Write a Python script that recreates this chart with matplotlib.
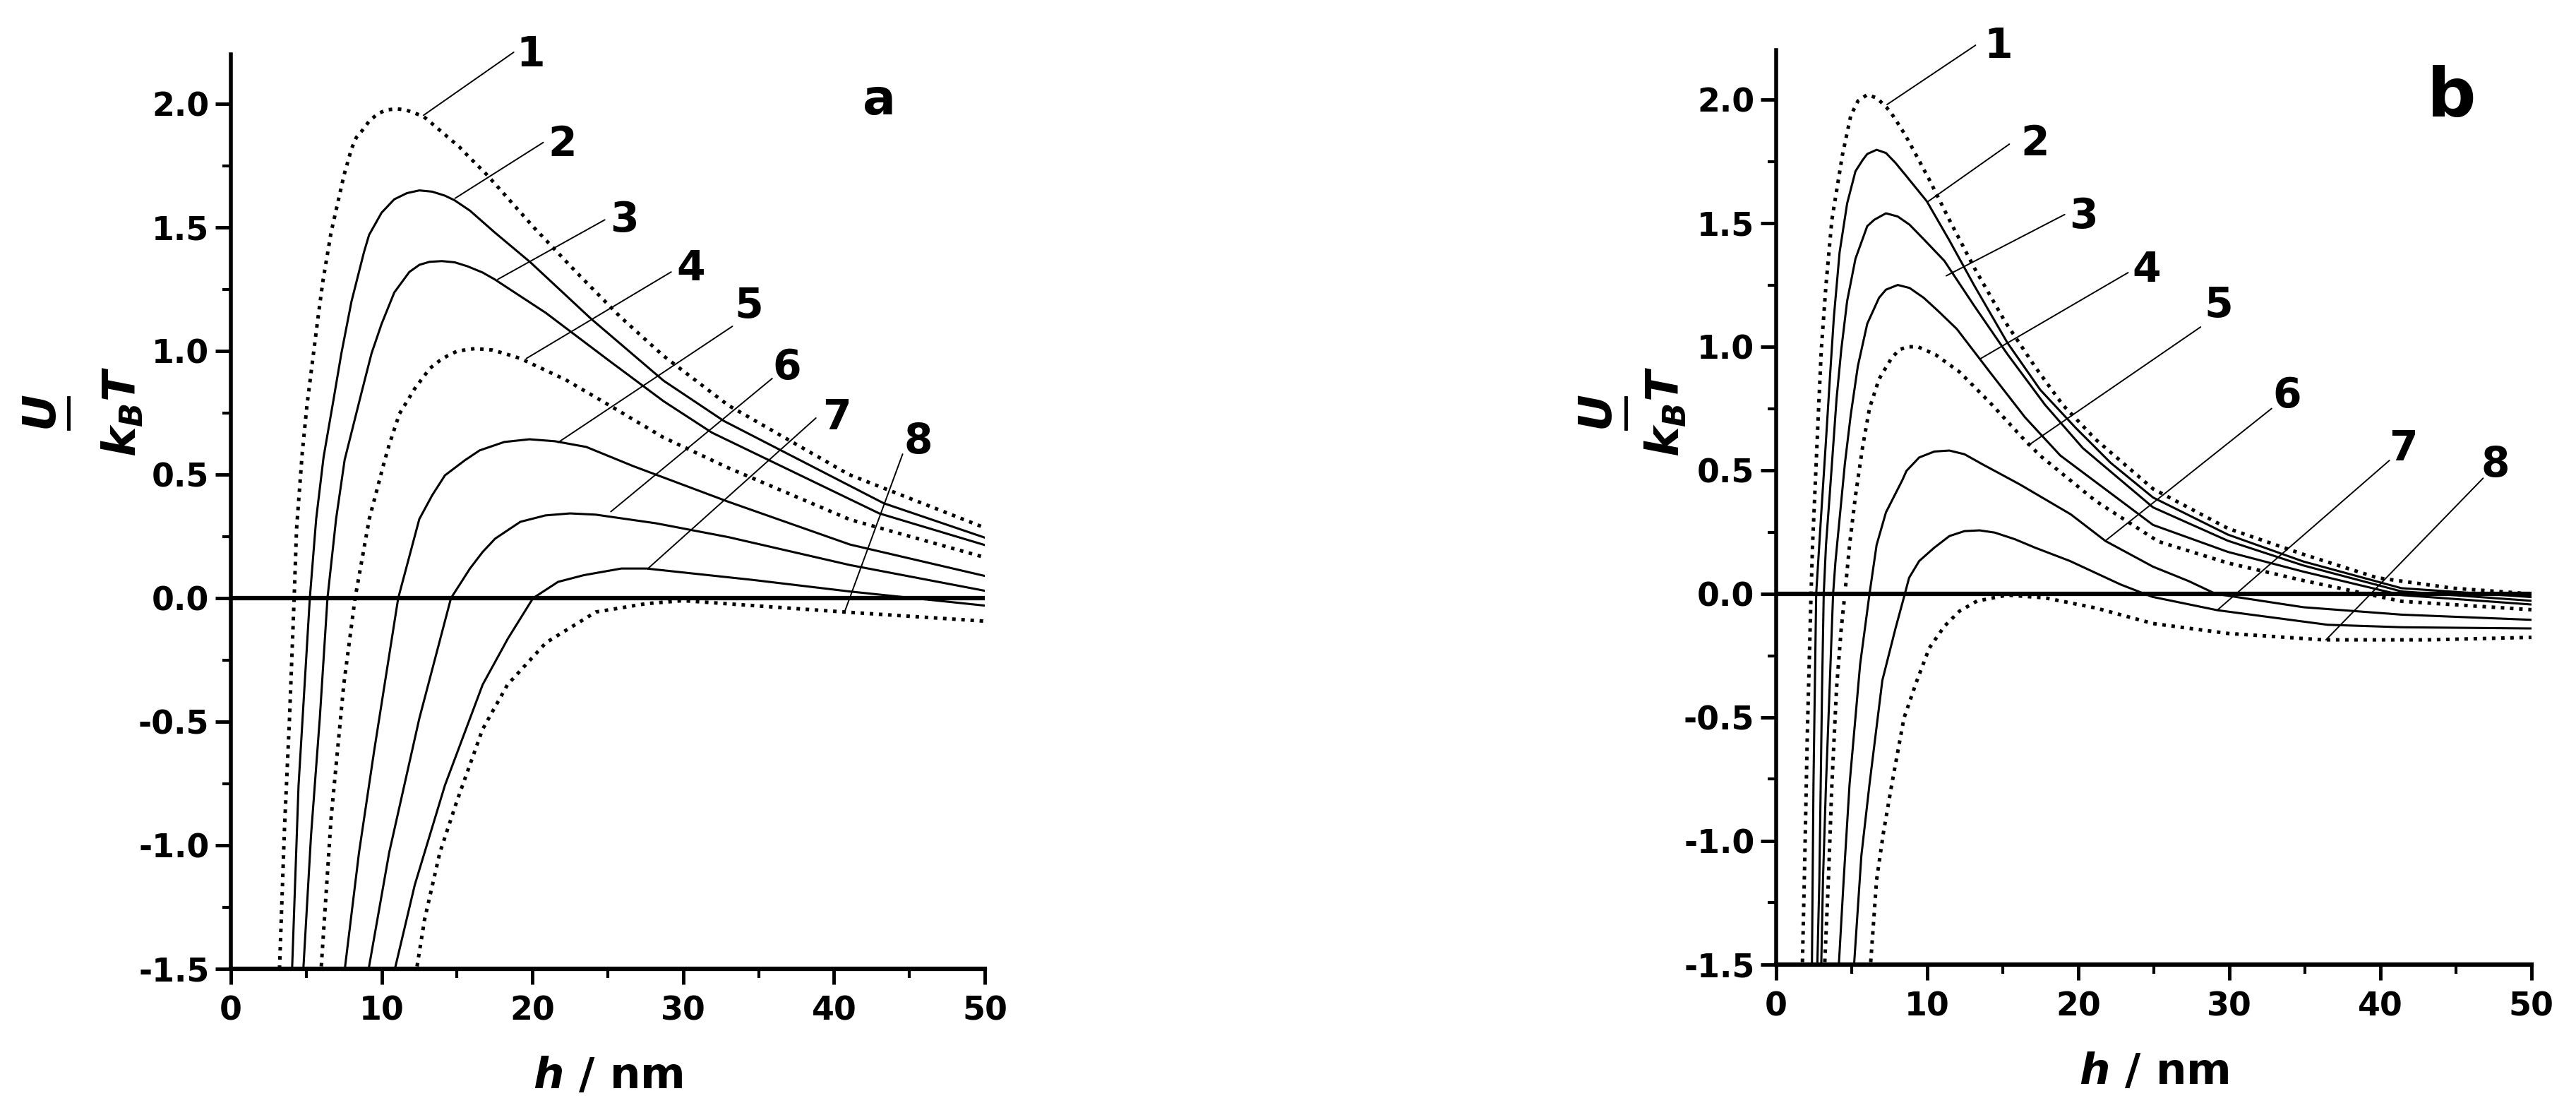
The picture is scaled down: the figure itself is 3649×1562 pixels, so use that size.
import matplotlib
matplotlib.use("Agg")
import matplotlib.pyplot as plt
from matplotlib.lines import Line2D
from matplotlib.ticker import MultipleLocator, FormatStrFormatter

plt.rcParams['font.family'] = ['DejaVu Sans']
plt.rcParams['font.weight'] = 'bold'
plt.rcParams['mathtext.fontset'] = 'custom'
plt.rcParams['mathtext.it'] = 'DejaVu Sans:italic:bold'
plt.rcParams['mathtext.rm'] = 'DejaVu Sans:bold'
plt.rcParams['mathtext.bf'] = 'DejaVu Sans:bold'

# ---- panel a : (h / nm, U / kBT) ----
a1 = [(3.23, -1.50), (3.56, -0.93), (3.89, -0.49), (4.2, 0.0), (4.36, 0.28), (4.74, 0.59),
      (5.05, 0.78), (5.4, 0.95), (5.75, 1.12), (6.1, 1.28), (6.65, 1.48), (7.5, 1.71),
      (8.0, 1.818), (8.33, 1.865), (8.75, 1.895), (9.17, 1.93), (9.76, 1.961), (10.34, 1.976),
      (11.0, 1.98), (11.59, 1.976), (12.18, 1.963), (12.76, 1.95), (13.35, 1.92), (14.52, 1.859),
      (15.17, 1.825), (15.77, 1.787), (16.94, 1.716), (17.4, 1.685), (20.1, 1.50), (22.9, 1.32),
      (25.8, 1.14), (28.7, 0.98), (33.0, 0.78), (41.0, 0.50), (50.0, 0.285)]
a2 = [(4.07, -1.49), (4.49, -0.76), (5.24, 0.0), (5.66, 0.32), (6.15, 0.57), (6.83, 0.81),
      (7.33, 0.99), (8.0, 1.2), (8.83, 1.40), (9.17, 1.47), (10.0, 1.56), (10.84, 1.614),
      (11.68, 1.639), (12.5, 1.65), (13.35, 1.645), (14.19, 1.629), (14.84, 1.61), (15.86, 1.568),
      (17.5, 1.48), (19.85, 1.36), (23.9, 1.13), (28.7, 0.88), (32.7, 0.717), (43.3, 0.384),
      (50.0, 0.245)]
a3 = [(4.82, -1.49), (5.32, -0.96), (5.9, -0.487), (6.41, 0.0), (6.98, 0.32), (7.55, 0.56),
      (8.66, 0.83), (9.33, 0.99), (10.0, 1.11), (10.84, 1.237), (11.84, 1.32), (12.51, 1.349),
      (13.18, 1.361), (14.0, 1.364), (14.85, 1.359), (15.69, 1.343), (16.69, 1.318), (17.5, 1.29),
      (20.9, 1.154), (25.0, 0.965), (28.7, 0.797), (31.9, 0.67), (43.0, 0.343), (50.0, 0.215)]
a4 = [(6.0, -1.49), (6.65, -0.89), (7.49, -0.35), (8.24, 0.0), (9.18, 0.32), (10.17, 0.55),
      (10.5, 0.62), (11.18, 0.746), (12.2, 0.848), (13.2, 0.93), (13.85, 0.961), (14.35, 0.98),
      (15.02, 1.0), (16.2, 1.01), (17.36, 1.004), (18.53, 0.983), (19.2, 0.97), (22.2, 0.884),
      (25.2, 0.777), (28.7, 0.65), (33.0, 0.527), (41.06, 0.318), (50.0, 0.165)]
a5 = [(7.58, -1.49), (8.5, -1.03), (9.5, -0.62), (11.1, 0.0), (12.5, 0.32), (13.35, 0.416),
      (14.2, 0.497), (15.52, 0.558), (16.5, 0.598), (18.13, 0.632), (19.8, 0.643), (21.5, 0.635),
      (23.57, 0.612), (26.7, 0.534), (33.0, 0.39), (41.06, 0.217), (50.0, 0.09)]
a6 = [(9.17, -1.49), (10.5, -1.03), (12.5, -0.487), (14.6, 0.0), (15.86, 0.12), (16.7, 0.187),
      (17.53, 0.241), (19.2, 0.309), (20.87, 0.335), (22.5, 0.343), (24.2, 0.338), (28.2, 0.303),
      (33.0, 0.247), (41.06, 0.134), (50.0, 0.03)]
a7 = [(10.92, -1.49), (12.2, -1.16), (14.2, -0.757), (16.7, -0.35), (18.37, -0.164), (20.04, 0.0),
      (21.7, 0.066), (23.4, 0.093), (25.9, 0.12), (27.56, 0.12), (34.6, 0.074), (41.06, 0.027),
      (50.0, -0.03)]
a8 = [(12.35, -1.49), (12.85, -1.30), (13.86, -1.03), (15.0, -0.82), (16.7, -0.53), (18.35, -0.35),
      (20.9, -0.18), (24.2, -0.056), (27.56, -0.022), (30.0, -0.01), (40.7, -0.056), (50.0, -0.093)]

# ---- panel b ----
b1 = [(1.74, -1.49), (1.90, -1.06), (2.06, -0.576), (2.31, 0.0), (2.41, 0.198), (2.60, 0.46),
      (2.79, 0.725), (2.99, 0.99), (3.30, 1.25), (3.69, 1.514), (4.39, 1.777), (4.94, 1.935),
      (5.41, 1.994), (6.03, 2.02), (6.65, 2.007), (7.29, 1.97), (7.71, 1.937), (8.04, 1.906),
      (8.46, 1.865), (8.79, 1.83), (10.14, 1.676), (11.47, 1.513), (13.13, 1.318), (15.14, 1.103),
      (17.14, 0.919), (18.97, 0.765), (21.15, 0.625), (24.95, 0.425), (29.9, 0.265), (34.9, 0.16),
      (39.8, 0.065), (44.8, 0.023), (50.0, 0.0)]
b2 = [(2.37, -1.49), (2.47, -0.77), (2.65, 0.0), (2.99, 0.33), (3.27, 0.593), (3.54, 0.857),
      (3.82, 1.119), (4.2, 1.382), (4.70, 1.58), (5.25, 1.71), (5.72, 1.755), (6.03, 1.78),
      (6.65, 1.797), (7.27, 1.784), (7.9, 1.744), (8.52, 1.698), (9.97, 1.589), (11.47, 1.43),
      (13.13, 1.246), (15.31, 1.016), (17.48, 0.826), (19.81, 0.673), (22.15, 0.53), (24.95, 0.39),
      (29.9, 0.24), (34.9, 0.131), (41.4, 0.023), (50.0, -0.013)]
b3 = [(2.73, -1.49), (2.86, -1.157), (2.95, -0.77), (3.04, -0.38), (3.15, 0.0), (3.30, 0.198),
      (3.54, 0.396), (3.77, 0.593), (4.0, 0.79), (4.31, 0.988), (4.70, 1.185), (5.25, 1.356),
      (6.03, 1.488), (6.5, 1.514), (7.27, 1.54), (8.05, 1.527), (8.83, 1.494), (9.77, 1.435),
      (11.13, 1.348), (13.13, 1.164), (15.31, 0.97), (17.8, 0.765), (20.3, 0.59), (24.95, 0.35),
      (29.9, 0.215), (34.9, 0.115), (41.4, 0.01), (50.0, -0.028)]
b4 = [(2.99, -1.49), (3.10, -1.157), (3.30, -0.77), (3.54, -0.38), (3.77, 0.0), (3.93, 0.133),
      (4.24, 0.33), (4.55, 0.527), (4.94, 0.725), (5.41, 0.922), (6.03, 1.093), (6.81, 1.198),
      (7.27, 1.231), (8.05, 1.25), (8.83, 1.238), (9.77, 1.198), (10.7, 1.146), (11.96, 1.072),
      (14.14, 0.898), (16.48, 0.714), (18.81, 0.56), (24.95, 0.279), (29.9, 0.17), (34.9, 0.09),
      (41.4, -0.005), (50.0, -0.043)]
b5 = [(3.22, -1.49), (3.46, -1.157), (3.69, -0.77), (4.0, -0.38), (4.31, -0.14), (4.55, 0.0),
      (4.86, 0.198), (5.25, 0.396), (5.72, 0.593), (6.18, 0.751), (6.81, 0.869), (7.58, 0.948),
      (8.13, 0.988), (8.75, 1.0), (9.38, 1.0), (10.55, 0.968), (12.14, 0.898), (14.14, 0.775),
      (16.3, 0.632), (17.48, 0.559), (21.15, 0.376), (25.3, 0.212), (29.9, 0.125), (34.9, 0.054),
      (41.4, -0.03), (50.0, -0.064)]
b6 = [(4.16, -1.49), (4.47, -1.157), (4.86, -0.77), (5.56, -0.285), (6.18, 0.0), (6.65, 0.198),
      (7.27, 0.33), (8.36, 0.461), (8.63, 0.498), (9.47, 0.552), (10.47, 0.576), (11.47, 0.58),
      (12.47, 0.565), (13.64, 0.525), (15.31, 0.47), (16.1, 0.444), (19.5, 0.322), (21.8, 0.214),
      (24.95, 0.11), (27.3, 0.052), (29.1, 0.0), (34.9, -0.054), (41.4, -0.084), (50.0, -0.105)]
b7 = [(5.17, -1.49), (5.64, -1.06), (6.18, -0.77), (7.03, -0.35), (7.9, -0.14), (8.52, 0.0),
      (8.8, 0.065), (9.47, 0.133), (10.47, 0.187), (11.47, 0.234), (12.47, 0.254), (13.47, 0.257),
      (14.47, 0.248), (15.81, 0.221), (17.14, 0.187), (19.45, 0.133), (22.8, 0.038), (24.9, -0.012),
      (29.2, -0.066), (36.5, -0.125), (41.4, -0.135), (50.0, -0.14)]
b8 = [(6.26, -1.49), (6.65, -1.157), (7.11, -0.963), (7.66, -0.769), (8.46, -0.503), (9.3, -0.354),
      (10.14, -0.219), (11.14, -0.131), (12.13, -0.07), (13.3, -0.029), (15.3, -0.005), (17.8, -0.016),
      (21.15, -0.057), (24.95, -0.12), (29.9, -0.16), (36.2, -0.186), (43.1, -0.186), (50.0, -0.176)]

curves_a = [a1, a2, a3, a4, a5, a6, a7, a8]
curves_b = [b1, b2, b3, b4, b5, b6, b7, b8]
styles_a = ['dot', 'solid', 'solid', 'dot', 'solid', 'solid', 'solid', 'dot']
styles_b = ['dot', 'solid', 'solid', 'solid', 'dot', 'solid', 'solid', 'dot']
curve_names = ['1', '2', '3', '4', '5', '6', '7', '8']

# label positions (baseline) and leader lines (from, to) in data units
labels_a = [(19.9, 2.153), (22.0, 1.79), (26.1, 1.484), (30.5, 1.287),
            (34.35, 1.134), (36.9, 0.887), (40.2, 0.683), (45.6, 0.587)]
leaders_a = [((18.76, 2.209), (12.78, 1.954)), ((20.72, 1.844), (14.87, 1.618)),
             ((24.8, 1.531), (17.7, 1.29)), ((29.2, 1.32), (19.6, 0.97)),
             ((33.26, 1.10), (21.7, 0.63)), ((35.9, 0.889), (25.2, 0.35)),
             ((38.8, 0.729), (27.7, 0.122)), ((44.55, 0.583), (40.7, -0.056))]
labels_b = [(14.7, 2.168), (17.15, 1.774), (20.35, 1.481), (24.5, 1.262),
            (29.3, 1.119), (33.8, 0.755), (41.5, 0.54), (47.6, 0.474)]
leaders_b = [((13.2, 2.22), (7.34, 1.98)), ((15.44, 1.82), (10.04, 1.587)),
             ((19.1, 1.535), (11.26, 1.287)), ((23.3, 1.30), (13.48, 0.95)),
             ((28.1, 1.08), (16.67, 0.60)), ((32.8, 0.75), (21.8, 0.215)),
             ((40.6, 0.54), (29.2, -0.066)), ((46.8, 0.468), (36.4, -0.186))]

fig = plt.figure(figsize=(36.49, 15.62), dpi=100)
ax_a = fig.add_axes([0.0896, 0.1216, 0.2927, 0.829])
ax_b = fig.add_axes([0.6895, 0.1255, 0.2932, 0.829])


def draw_panel(ax, curves, styles, labels, leaders, letter, letter_pos, letter_size):
    ax.axhline(0, color='black', lw=4.5, zorder=1)
    for pts, st in zip(curves, styles):
        h = [p[0] for p in pts]
        u = [p[1] for p in pts]
        if st == 'dot':
            ax.plot(h, u, color='black', lw=3.6, linestyle=(0, (1, 1.6)), zorder=2)
        else:
            ax.plot(h, u, color='black', lw=2.2, zorder=2, solid_joinstyle='round')
    for name, pos, (p0, p1) in zip(curve_names, labels, leaders):
        ax.text(pos[0], pos[1], name, fontsize=42, fontweight='bold',
                ha='center', va='baseline')
        ax.annotate('', xy=p1, xytext=p0,
                    arrowprops=dict(arrowstyle='-', lw=1.4, color='black',
                                    shrinkA=0, shrinkB=0))
    ax.text(letter_pos[0], letter_pos[1], letter, fontsize=letter_size,
            fontweight='bold', ha='center', va='baseline')

    ax.set_xlim(0, 50)
    ax.set_ylim(-1.5, 2.2)
    ax.spines['top'].set_visible(False)
    ax.spines['right'].set_visible(False)
    ax.spines['left'].set_linewidth(4.0)
    ax.spines['bottom'].set_linewidth(4.5)
    ax.xaxis.set_major_locator(MultipleLocator(10))
    ax.xaxis.set_minor_locator(MultipleLocator(5))
    ax.yaxis.set_major_locator(MultipleLocator(0.5))
    ax.yaxis.set_minor_locator(MultipleLocator(0.25))
    ax.yaxis.set_major_formatter(FormatStrFormatter('%.1f'))
    ax.tick_params(which='major', direction='out', length=16, width=3.5, labelsize=33)
    ax.tick_params(which='minor', direction='out', length=9, width=3)
    ax.tick_params(axis='y', which='major', pad=6)
    ax.tick_params(axis='x', which='major', pad=11)
    ax.set_xlabel(r'$h$ / nm', fontsize=44, fontweight='bold', va='top')
    ax.xaxis.set_label_coords(0.5, -0.095)


draw_panel(ax_a, curves_a, styles_a, labels_a, leaders_a, 'a', (43.0, 1.957), 50)
draw_panel(ax_b, curves_b, styles_b, labels_b, leaders_b, 'b', (44.7, 1.931), 70)

# y label: U over kB T, drawn as in the original (short bar under U)
for xu, xbar, xk in [(0.0168, 0.0265, 0.0477), (0.6207, 0.6312, 0.6468)]:
    fig.text(xu, 0.6255, r'$U$', rotation=90, ha='center', va='center', fontsize=46)
    fig.add_artist(Line2D([xbar, xbar], [0.6115, 0.6395], color='black', lw=3.5))
    fig.text(xk, 0.6268, r'$k_{B}T$', rotation=90, ha='center', va='center', fontsize=46)

fig.savefig('out.png', dpi=100, facecolor='white')
